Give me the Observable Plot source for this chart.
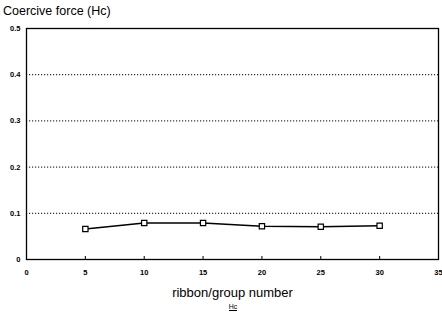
<!DOCTYPE html>
<html><head><meta charset="utf-8">
<script src="https://cdn.jsdelivr.net/npm/d3@7"></script>
<script src="https://cdn.jsdelivr.net/npm/@observablehq/plot@0.6"></script>
<style>
body{margin:0;background:#fff;font-family:"Liberation Sans",Arial,sans-serif;}
#title{height:20px;line-height:22px;font-size:12.5px;padding-left:3px;color:#000;}
#cap{height:20px;line-height:14px;text-align:center;font-size:7px;color:#000;padding-left:24px;}
#cap span{border-bottom:1px solid #000;}
</style></head>
<body>
<div id="title">Coercive force (Hc)</div>
<div id="chart"></div>
<div id="cap"><span>Hc</span></div>
<script>
const groups = [5, 10, 15, 20, 25, 30];
const hc = [0.066, 0.079, 0.079, 0.072, 0.071, 0.073];
const xTicks = [0, 5, 10, 15, 20, 25, 30, 35];
const yTicks = [0, 0.1, 0.2, 0.3, 0.4, 0.5];
const gridTicks = [0.1, 0.2, 0.3, 0.4];
const xLabel = "ribbon/group number";

const data = groups.map((g, i) => ({g, v: hc[i]}));

const chart = Plot.plot({
  width: 442, height: 280,
  marginTop: 8, marginBottom: 41, marginLeft: 26, marginRight: 4,
  style: {fontFamily: "Liberation Sans, Arial, sans-serif", fontSize: "7.5px", fontWeight: "bold", color: "#000", background: "#fff"},
  x: {domain: [0, 35]},
  y: {domain: [0, 0.5]},
  marks: [
    Plot.gridY(gridTicks, {stroke: "#000", strokeOpacity: 1, strokeDasharray: "1.2,1.8", strokeWidth: 1}),
    Plot.frame({stroke: "#000", strokeWidth: 1.3}),
    Plot.axisX(xTicks, {tickSize: -3, tickPadding: 13, label: null, tickFormat: d => String(d)}),
    Plot.axisY(yTicks, {tickSize: 0, tickPadding: 6, label: null, tickFormat: d => d === 0 ? "0" : d.toFixed(1)}),
    Plot.line(data, {x: "g", y: "v", stroke: "#000", strokeWidth: 1.6}),
    Plot.dot(data, {x: "g", y: "v", symbol: "square", r: 3, fill: "#fff", stroke: "#000", strokeWidth: 1.2}),
    Plot.text([xLabel], {frameAnchor: "bottom", dy: 37, fontSize: 13, fontWeight: "normal", text: d => d})
  ]
});
document.getElementById("chart").appendChild(chart);
</script>
</body></html>
